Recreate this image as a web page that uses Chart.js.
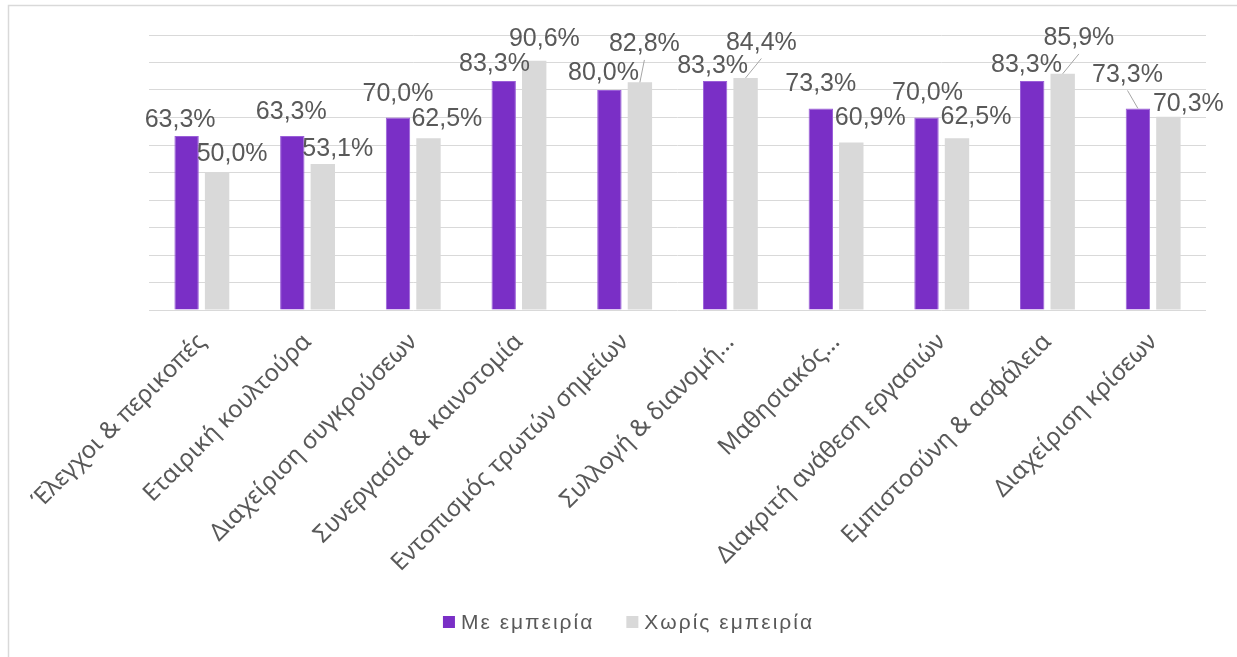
<!DOCTYPE html>
<html>
<head>
<meta charset="utf-8">
<script src="https://cdn.jsdelivr.net/npm/chart.js@4.4.1/dist/chart.umd.min.js"></script>
<style>
  html, body { margin: 0; padding: 0; background: #ffffff; overflow: hidden; }
  canvas { display: block; }
</style>
</head>
<body>
<canvas id="chart" width="1237" height="657"></canvas>
<script>
// Categories (x axis)
const categories = [
  'Έλεγχοι & περικοπές',
  'Εταιρική κουλτούρα',
  'Διαχείριση συγκρούσεων',
  'Συνεργασία & καινοτομία',
  'Εντοπισμός τρωτών σημείων',
  'Συλλογή & διανομή…',
  'Μαθησιακός…',
  'Διακριτή ανάθεση εργασιών',
  'Εμπιστοσύνη & ασφάλεια',
  'Διαχείριση κρίσεων'
];

// Series names
const seriesNames = ['Με εμπειρία', 'Χωρίς εμπειρία'];

// Series values (percent)
const withExperience    = [63.3, 63.3, 70.0, 83.3, 80.0, 83.3, 73.3, 70.0, 83.3, 73.3];
const withoutExperience = [50.0, 53.1, 62.5, 90.6, 82.8, 84.4, 60.9, 62.5, 85.9, 70.3];

// Value axis range (gridlines every 10%)
const yMin = 0;
const yMax = 100;
const yStep = 10;

// Label placement tweaks: [dx, dy] of each value label's centre from its bar's top centre
const labelNudgeWith = [
  [-6.5, -17.5], [-1, -26], [0, -25.5], [-9.2, -18.4], [-5.9, -18.5],
  [-2.5, -16.4], [0, -26.4], [1, -26], [-5.7, -17.9], [-10.4, -35.4]
];
const labelNudgeWithout = [
  [15, -20], [15, -17], [18.4, -20.6], [10.2, -24.3], [4.5, -39.8],
  [15.8, -36.9], [19, -26], [19, -23], [16.2, -37.3], [20, -14.2]
];

const TEXT_COLOR = '#595959';
const GRID_COLOR = '#d9d9d9';
const PURPLE = '#7a2fc6';
const PURPLE_EDGE = '#9a5fd8';
const LIGHT_GRAY = '#d9d9d9';
const LABEL_FONT = '"Liberation Sans", Arial, sans-serif';
const AXIS_FONT = '"Noto Sans", sans-serif';

function fmtPct(v) {
  return v.toFixed(1).replace('.', ',') + '%';
}

// Outer frame of the chart object
const framePlugin = {
  id: 'frame',
  beforeDraw(chart) {
    const ctx = chart.ctx;
    ctx.save();
    ctx.strokeStyle = '#d9d9d9';
    ctx.lineWidth = 1.5;
    ctx.beginPath();
    ctx.moveTo(8.5, chart.height + 2);
    ctx.lineTo(8.5, 5.5);
    ctx.lineTo(chart.width + 2, 5.5);
    ctx.stroke();
    ctx.restore();
  }
};

// Value labels above the bars, with leader lines for labels pushed far away
const valueLabelPlugin = {
  id: 'valueLabels',
  afterDatasetsDraw(chart) {
    const ctx = chart.ctx;
    const fs = 25;
    const nudges = [labelNudgeWith, labelNudgeWithout];
    ctx.save();
    ctx.font = fs + 'px ' + LABEL_FONT;
    ctx.fillStyle = TEXT_COLOR;
    ctx.textAlign = 'center';
    ctx.textBaseline = 'alphabetic';
    chart.data.datasets.forEach((ds, di) => {
      const meta = chart.getDatasetMeta(di);
      meta.data.forEach((bar, i) => {
        const [dx, dy] = nudges[di][i];
        const cx = bar.x + dx;
        const cy = bar.y + dy;
        const half = fs * 0.358;
        ctx.fillText(fmtPct(ds.data[i]), cx, cy + half);
        if (dy < -32) {
          ctx.save();
          ctx.strokeStyle = '#a6a6a6';
          ctx.lineWidth = 1;
          ctx.beginPath();
          ctx.moveTo(cx, cy + half + 8.5);
          ctx.lineTo(bar.x, bar.y);
          ctx.stroke();
          ctx.restore();
        }
      });
    });
    ctx.restore();
  }
};

// Legend row under the axis labels
const legendPlugin = {
  id: 'bottomLegend',
  afterDraw(chart) {
    const ctx = chart.ctx;
    const fs = 21;
    const box = 12;
    const boxGap = 6;
    const itemGap = 32;
    ctx.save();
    ctx.font = fs + 'px ' + LABEL_FONT;
    ctx.letterSpacing = '2px';
    const items = chart.data.datasets.map(ds => ({
      text: ds.label,
      color: ds.backgroundColor,
      w: ctx.measureText(ds.label).width
    }));
    let total = 0;
    items.forEach((it, i) => { total += box + boxGap + it.w + (i ? itemGap : 0); });
    let x = chart.width / 2 + 10 - total / 2;
    const baseline = 629;
    ctx.textAlign = 'left';
    ctx.textBaseline = 'alphabetic';
    items.forEach(it => {
      ctx.fillStyle = it.color;
      ctx.fillRect(x, 616, box, box);
      ctx.fillStyle = TEXT_COLOR;
      ctx.fillText(it.text, x + box + boxGap, baseline);
      x += box + boxGap + it.w + itemGap;
    });
    ctx.restore();
  }
};

function drawChart() {
  new Chart(document.getElementById('chart'), {
    type: 'bar',
    data: {
      labels: categories,
      datasets: [
        {
          label: seriesNames[0],
          data: withExperience,
          backgroundColor: PURPLE,
          borderColor: PURPLE_EDGE,
          borderWidth: { top: 1, left: 1, right: 1, bottom: 0 },
          categoryPercentage: 0.577,
          barPercentage: 0.8
        },
        {
          label: seriesNames[1],
          data: withoutExperience,
          backgroundColor: LIGHT_GRAY,
          borderWidth: 0,
          categoryPercentage: 0.577,
          barPercentage: 0.8
        }
      ]
    },
    options: {
      responsive: false,
      animation: false,
      devicePixelRatio: 1,
      layout: { padding: { left: 0, right: 31, top: 35, bottom: 0 } },
      plugins: {
        legend: { display: false },
        title: { display: false },
        tooltip: { enabled: false }
      },
      scales: {
        x: {
          offset: true,
          grid: { display: false, drawTicks: false },
          border: { display: false },
          ticks: {
            autoSkip: false,
            minRotation: 45,
            maxRotation: 45,
            padding: 18,
            color: TEXT_COLOR,
            font: { family: AXIS_FONT, size: 24 }
          },
          afterFit(scale) {
            scale.height = 347;
            scale.paddingLeft = 0;
            scale.paddingRight = 0;
          }
        },
        y: {
          min: yMin,
          max: yMax,
          ticks: { display: false, stepSize: yStep },
          grid: { color: GRID_COLOR, lineWidth: 1, drawTicks: false },
          border: { display: false },
          afterFit(scale) {
            scale.width = 149;
          }
        }
      }
    },
    plugins: [framePlugin, valueLabelPlugin, legendPlugin]
  });
}

Promise.all([
  document.fonts.load('24px "Noto Sans"', 'Έλεγχοι'),
  document.fonts.load('25px "Liberation Sans"', 'Με')
]).catch(() => {}).then(drawChart);
</script>
</body>
</html>
